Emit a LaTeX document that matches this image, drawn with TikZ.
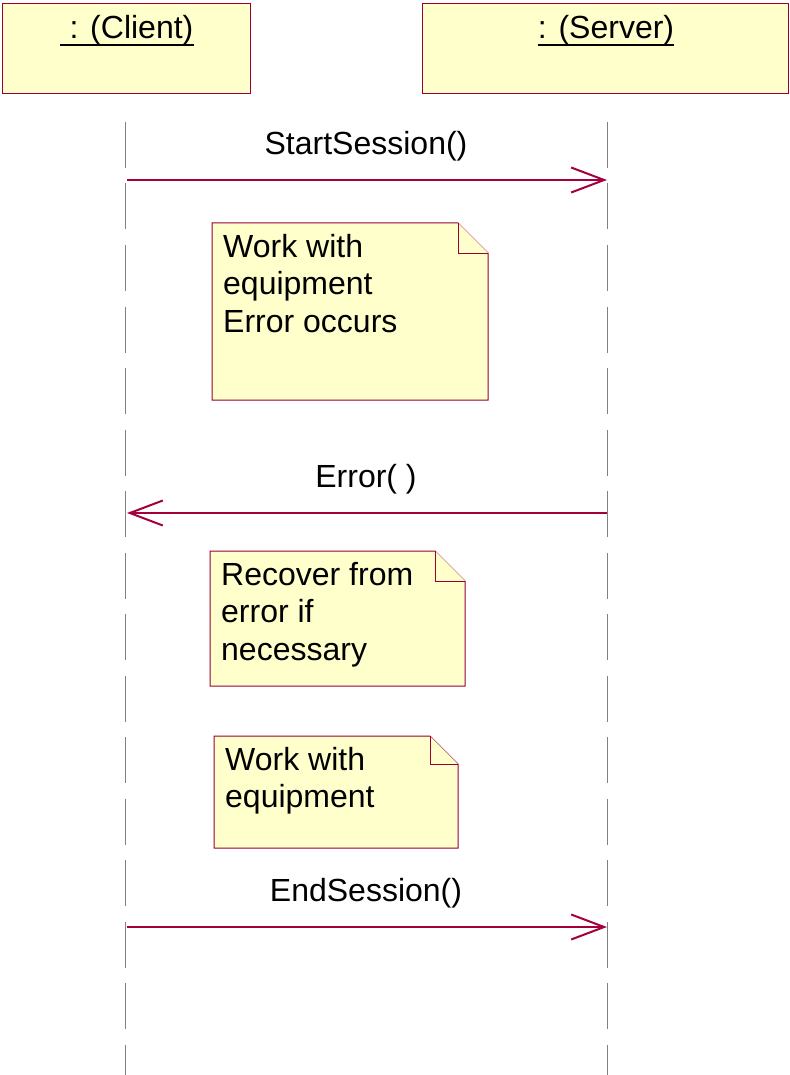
\documentclass[tikz,border=0pt]{standalone}
\usepackage{fontspec}
\setmainfont{Liberation Sans}
\usetikzlibrary{positioning,arrows.meta}
\definecolor{umlfill}{RGB}{255,255,204}
\definecolor{umlred}{RGB}{153,0,51}
\definecolor{msgred}{RGB}{165,0,62}
\definecolor{lifegray}{RGB}{128,128,128}

\begin{document}
\begin{tikzpicture}[x=1pt, y=1pt, font=\fontsize{32}{37.5}\selectfont,
                    objbox/.style={rectangle, draw=umlred, fill=umlfill, line width=1pt, inner sep=0pt, minimum height=90pt}]
    \tikzstyle{objname}=[anchor=base, inner sep=0pt]
    \tikzstyle{uline}=[line width=2pt]
    \tikzstyle{lifeline}=[draw=lifegray, line width=1pt, dash pattern=on 46pt off 15.5pt]
    \tikzstyle{msg}=[draw=msgred, line width=1.2pt, -{Straight Barb[length=33pt, width=25pt, line width=2pt]}]
    \tikzstyle{msglabel}=[inner sep=0pt, text depth=0pt, node distance=25pt]
    \tikzstyle{note}=[draw=umlred, fill=umlfill, line width=1pt]
    \tikzstyle{notetext}=[anchor=north west, align=left, inner sep=0pt]

    \useasboundingbox (0,0) rectangle (789,-1075);

      % objects
      \node[objbox, minimum width=248pt, anchor=north west] (client) at (2,-3) {};
      \node[objbox, minimum width=366pt, anchor=north west] (server) at (422,-3) {};
      \node[objname] (clientname) at (127,-39) {\ : (Client)};
      \node[objname] (servername) at (606,-39) {: (Server)};
      \draw[uline] ([yshift=-6pt]clientname.base west) -- ([yshift=-6pt]clientname.base east);
      \draw[uline] ([yshift=-6pt]servername.base west) -- ([yshift=-6pt]servername.base east);

      % lifelines
      \coordinate (clientTop) at (125,-122);
      \coordinate (clientBot) at (125,-1075);
      \coordinate (serverTop) at (607,-122);
      \coordinate (serverBot) at (607,-1075);
      \path
        (clientTop) edge [lifeline] (clientBot)
        (serverTop) edge [lifeline] (serverBot);

      % messages
      \coordinate (cStart) at (127,-180);
      \coordinate (sStart) at (607,-180);
      \coordinate (mStart) at (366,-180);
      \coordinate (sError) at (607,-513);
      \coordinate (cError) at (127,-513);
      \coordinate (mError) at (366,-513);
      \coordinate (cEnd) at (127,-927);
      \coordinate (sEnd) at (607,-927);
      \coordinate (mEnd) at (366,-927);
      \path
        (cStart) edge [msg] (sStart)
        (sError) edge [msg] (cError)
        (cEnd) edge [msg] (sEnd);
      \node[msglabel] (lblStart) [above=of mStart] {StartSession()};
      \node[msglabel] (lblError) [above=of mError] {Error(\ )};
      \node[msglabel] (lblEnd) [above=of mEnd] {EndSession()};

      % notes
      \draw[note] (212,-223) -- (458,-223) -- (488,-253) -- (488,-400) -- (212,-400) -- cycle;
      \draw[note] (458,-223) -- (458,-253) -- (488,-253);
      \node[notetext] (work) at (223,-234) {Work with\\equipment\\Error occurs};

      \draw[note] (210,-551) -- (435,-551) -- (465,-581) -- (465,-686) -- (210,-686) -- cycle;
      \draw[note] (435,-551) -- (435,-581) -- (465,-581);
      \node[notetext] (recover) at (221,-562) {Recover from\\error if\\necessary};

      \draw[note] (214,-736) -- (430,-736) -- (458,-764) -- (458,-848) -- (214,-848) -- cycle;
      \draw[note] (430,-736) -- (430,-764) -- (458,-764);
      \node[notetext] (workagain) at (225,-747) {Work with\\equipment};
    \end{tikzpicture}
\end{document}
